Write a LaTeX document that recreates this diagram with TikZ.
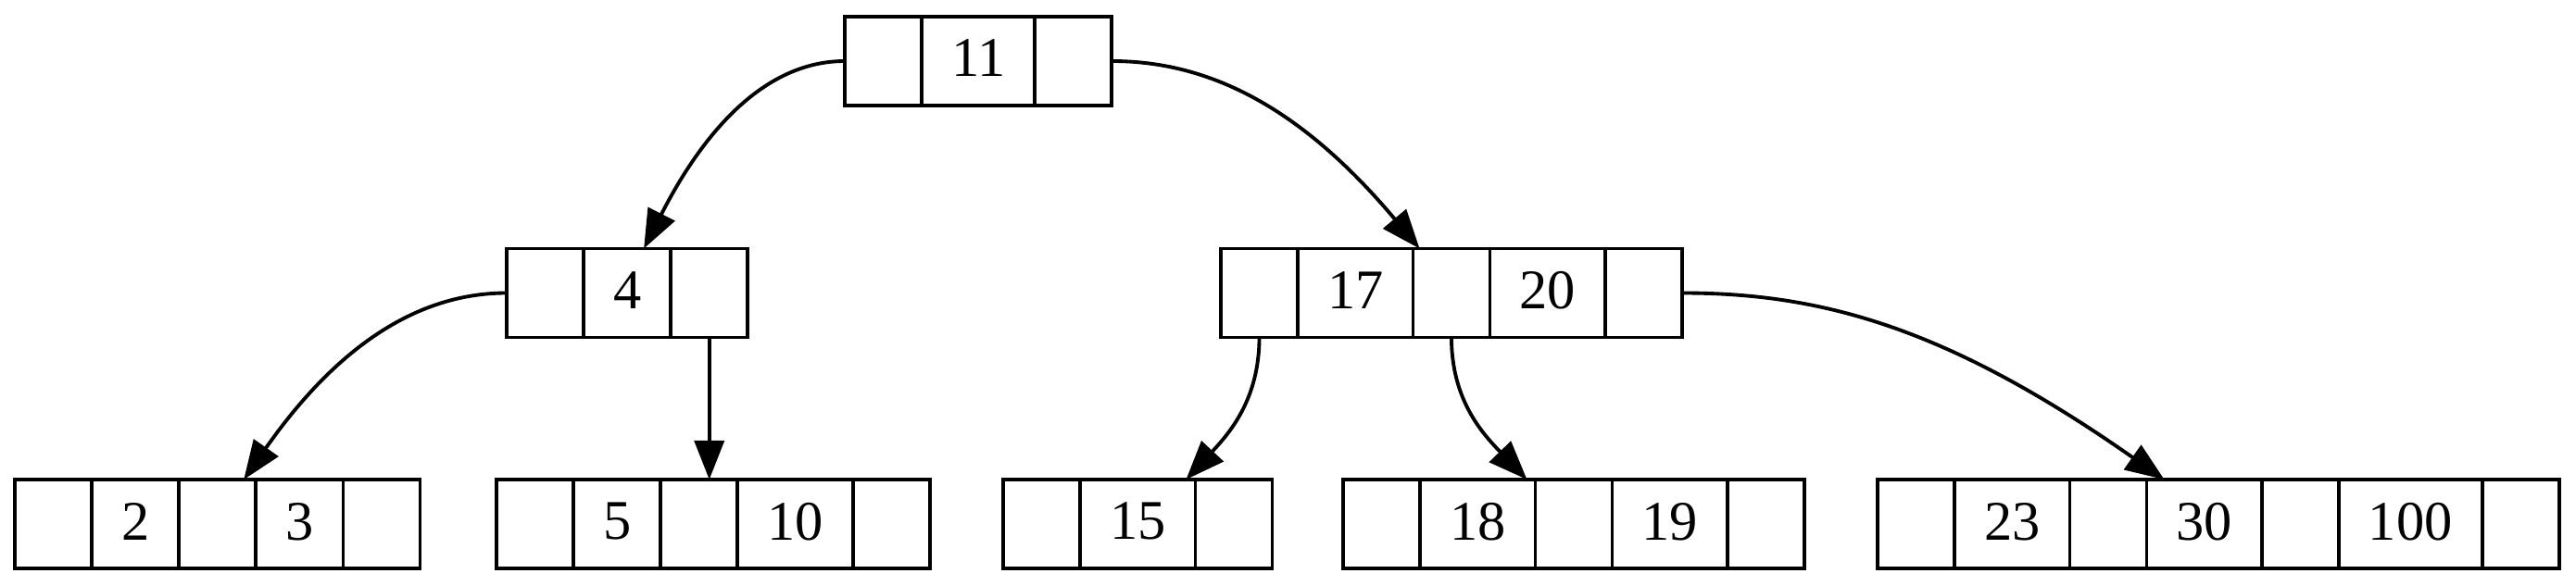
\documentclass[tikz,border=0pt]{standalone}
\usepackage{fontspec}
\setmainfont{Liberation Serif}
\usepackage{tikz}
\usetikzlibrary{positioning, arrows.meta}

\begin{document}
\begin{tikzpicture}[every node/.style={font=\fontsize{17.2pt}{20pt}\selectfont},
    ptr/.style={draw, line width=1.1pt, minimum width=0.83cm, minimum height=0.96cm, inner xsep=0.32cm, inner ysep=0pt, outer sep=0pt, text depth=0.06cm},
    key/.style={ptr},
    arrow/.style={-{Triangle[length=0.42cm, width=0.32cm]}, line width=1.1pt},
    slack/.style={out looseness=0.7, in looseness=1.3}]

    \useasboundingbox (0,0) rectangle (27.81,-6.33);

    % Root
    \node[ptr, anchor=west] (r0) at (9.12,-0.66) {};
    \node[key, right=0pt of r0] (r1) {11};
    \node[ptr, right=0pt of r1] (r2) {};

    % Second level
    \node[ptr, anchor=west] (a0) at (5.47,-3.165) {};
    \node[key, right=0pt of a0] (a1) {4};
    \node[ptr, right=0pt of a1] (a2) {};

    \node[ptr, anchor=west] (b0) at (13.18,-3.165) {};
    \node[key, right=0pt of b0] (b1) {17};
    \node[ptr, right=0pt of b1] (b2) {};
    \node[key, right=0pt of b2] (b3) {20};
    \node[ptr, right=0pt of b3] (b4) {};

    % Leaves
    \node[ptr, anchor=west] (c0) at (0.16,-5.66) {};
    \node[key, right=0pt of c0] (c1) {2};
    \node[ptr, right=0pt of c1] (c2) {};
    \node[key, right=0pt of c2] (c3) {3};
    \node[ptr, right=0pt of c3] (c4) {};

    \node[ptr, anchor=west] (d0) at (5.36,-5.66) {};
    \node[key, right=0pt of d0] (d1) {5};
    \node[ptr, right=0pt of d1] (d2) {};
    \node[key, right=0pt of d2] (d3) {10};
    \node[ptr, right=0pt of d3] (d4) {};

    \node[ptr, anchor=west] (e0) at (10.83,-5.66) {};
    \node[key, right=0pt of e0] (e1) {15};
    \node[ptr, right=0pt of e1] (e2) {};

    \node[ptr, anchor=west] (f0) at (14.50,-5.66) {};
    \node[key, right=0pt of f0] (f1) {18};
    \node[ptr, right=0pt of f1] (f2) {};
    \node[key, right=0pt of f2] (f3) {19};
    \node[ptr, right=0pt of f3] (f4) {};

    \node[ptr, anchor=west] (g0) at (20.27,-5.66) {};
    \node[key, right=0pt of g0] (g1) {23};
    \node[ptr, right=0pt of g1] (g2) {};
    \node[key, right=0pt of g2] (g3) {30};
    \node[ptr, right=0pt of g3] (g4) {};
    \node[key, right=0pt of g4] (g5) {100};
    \node[ptr, right=0pt of g5] (g6) {};

    % Child pointers
    \draw[arrow] (r0.west) to[out=180, in=63, slack] ([xshift=0.18cm]a1.north);
    \draw[arrow] (r2.east) to[out=0, in=130, slack] ([xshift=0.07cm]b2.north west);
    \draw[arrow] (a0.west) to[out=180, in=55, slack] ([xshift=-0.13cm]c2.north east);
    \draw[arrow] (a2.south) -- (a2.south |- d0.north);
    \draw[arrow] (b0.south) to[out=-90, in=47] ([xshift=-0.1cm]e1.north east);
    \draw[arrow] (b2.south) to[out=-90, in=134] ([xshift=-0.09cm]f1.north east);
    \draw[arrow] (b4.east) to[out=0, in=145, slack] ([xshift=0.19cm]g3.north west);

\end{tikzpicture}
\end{document}
